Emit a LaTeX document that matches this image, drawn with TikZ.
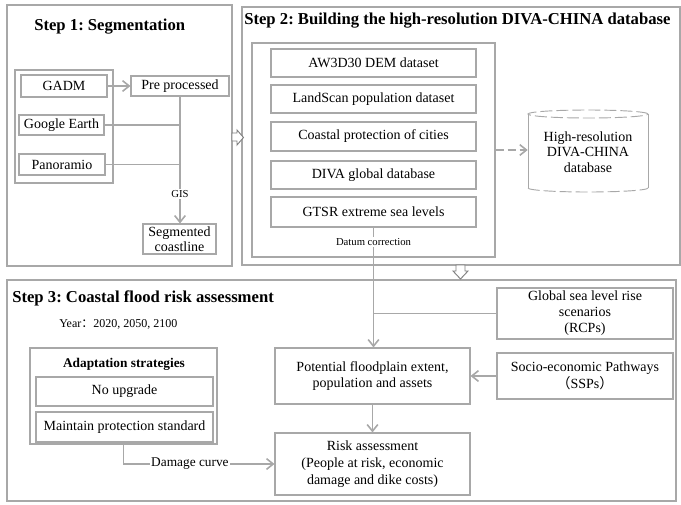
\documentclass[tikz,border=0pt]{standalone}
\usepackage{fontspec}
\setmainfont{Liberation Serif}
\newfontfamily\cjk{Noto Sans CJK SC}
\usetikzlibrary{arrows.meta}
\definecolor{framegray}{RGB}{168,168,168}
\definecolor{linkgray}{RGB}{168,168,168}
\frenchspacing

\begin{document}
\begin{tikzpicture}[x=0.75pt, y=-0.75pt,
    frame/.style={draw=framegray, line width=0.8pt, inner sep=0pt},
    box/.style={draw=framegray, line width=0.8pt, align=center, inner sep=1pt,
      font=\fontsize{10.5}{12.5}\selectfont},
    databox/.style={box, minimum width=153.75pt, minimum height=21pt},
    title/.style={anchor=west, inner sep=0pt, font=\bfseries\fontsize{12.5}{14}\selectfont},
    note/.style={fill=white, inner sep=1pt, font=\fontsize{8}{9}\selectfont},
    link/.style={draw=linkgray, line width=1.2pt},
    hollow/.style={draw=gray, line width=0.7pt, fill=white, line join=miter},
    >={Straight Barb[length=5pt,width=8pt]}]
  \useasboundingbox (0,0) rectangle (681,504);

  % the three steps
  \node[frame, minimum width=168.75pt, minimum height=195.75pt] (step1) at (119.5,135.5) {};
  \node[frame, minimum width=328.5pt, minimum height=193.5pt] (step2) at (461,136) {};
  \node[frame, minimum width=501.75pt, minimum height=165.75pt] (step3) at (341.5,390.5) {};
  \node[title] (t1) at (34,27) {Step 1: Segmentation};
  \node[title] (t2) at (244,21) {Step 2: Building the high-resolution DIVA-CHINA database};
  \node[title] (t3) at (12,298) {Step 3: Coastal flood risk assessment};

  % step 1
  \node[frame, minimum width=73.5pt, minimum height=84.75pt] (srcbox) at (64,126.5) {};
  \node[box, minimum width=64.5pt, minimum height=16.5pt] (gadm) at (64,86) {GADM};
  \node[box, minimum width=63.75pt, minimum height=15pt] (google) at (61.5,125) {Google Earth};
  \node[box, minimum width=64.5pt, minimum height=15.75pt] (pano) at (62,164.5) {Panoramio};
  \node[box, minimum width=73.5pt, minimum height=15pt] (prep) at (180,86) {Pre processed};
  \node[box, minimum width=54.75pt, minimum height=22.5pt, font=\fontsize{10.5}{11}\selectfont] (seg) at (179.5,239) {Segmented\\coastline};
  \draw[link,->] (gadm) -- (prep);
  \draw[link] (google) -- (google -| prep.south);
  \draw[link] (pano) -- (pano -| prep.south);
  \draw[link,->] (prep.south) -- node[note, pos=0.77] (gis) {GIS} (prep.south |- seg.north);

  % step 2
  \node[frame, minimum width=182.25pt, minimum height=160.5pt] (dbbox) at (373.5,150) {};
  \node[databox] (aw3d) at (373.5,63) {AW3D30 DEM dataset};
  \node[databox] (landscan) at (373.5,99) {LandScan population dataset};
  \node[databox, minimum height=21.75pt] (protect) at (373.5,136.5) {Coastal protection of cities};
  \node[databox] (divaglob) at (373.5,175) {DIVA global database};
  \node[databox, minimum height=22.5pt] (gtsr) at (373.5,212) {GTSR extreme sea levels};
  \node[align=center, minimum width=90pt, minimum height=61.5pt, font=\fontsize{10.5}{11.5}\selectfont] (hrdb) at (588,152)
    {High-resolution\\DIVA-CHINA\\database};
  \draw[framegray, line width=0.7pt, dash pattern=on 9pt off 3pt]
    (588,114) ellipse [x radius=45pt, y radius=3pt]
    (528,188) arc [start angle=180, end angle=360, x radius=45pt, y radius=3pt];
  \draw[framegray, line width=0.7pt] (528,114) -- (528,188) (648,114) -- (648,188);
  \draw[link, dash pattern=on 6pt off 3pt, ->] (dbbox.east) -- (dbbox.east -| hrdb.west);

  % hollow arrows between the steps
  \draw[hollow] (232,133) -- (237,133) -- (237,130) -- (243.5,137.5) -- (237,145) -- (237,141) -- (232,141) -- cycle;
  \draw[hollow] (456,265) -- (456,271) -- (453,271) -- (460.5,279) -- (468,271) -- (465,271) -- (465,265) -- cycle;

  % step 3
  \node[anchor=west, inner sep=0pt, font=\fontsize{9}{10}\selectfont] (year) at (59,324)
    {Year{\cjk ：}2020, 2050, 2100};
  \node[frame, minimum width=140.25pt, minimum height=72pt] (adaptbox) at (123.5,396) {};
  \node[font=\bfseries\fontsize{10}{12}\selectfont] (adapt) at (124,364) {Adaptation strategies};
  \node[box, minimum width=132.75pt, minimum height=21.75pt] (noup) at (124.5,391.5) {No upgrade};
  \node[box, minimum width=132.75pt, minimum height=22.5pt] (maintain) at (124.5,427) {Maintain protection standard};
  \node[box, minimum width=146.25pt, minimum height=42pt] (pot) at (372.5,376) {Potential floodplain extent,\\population and assets};
  \node[box, minimum width=146.25pt, minimum height=46.5pt] (risk) at (372.5,464)
    {Risk assessment\\(People at risk, economic\\damage and dike costs)};
  \node[box, minimum width=132pt, minimum height=38.25pt, font=\fontsize{10.5}{12}\selectfont] (rcp) at (585,313.5)
    {Global sea level rise\\scenarios\\(RCPs)};
  \node[box, minimum width=132pt, minimum height=34.5pt] (ssp) at (585,376) {Socio-economic Pathways\\{\cjk （}SSPs{\cjk ）}};

  \draw[link,->] (gtsr.south) -- (gtsr.south |- pot.north);
  \node[note] (datum) at (373.5,242) {Datum correction};
  \draw[link] (rcp.west) -- (rcp.west -| gtsr.south);
  \draw[link,->] (ssp) -- (pot);
  \draw[link,->] (pot) -- (risk);
  \draw[link,->] (adaptbox.south) |- node[note, pos=0.72, font=\fontsize{10}{11}\selectfont] (dmg) {Damage curve} (risk.west);
\end{tikzpicture}
\end{document}
